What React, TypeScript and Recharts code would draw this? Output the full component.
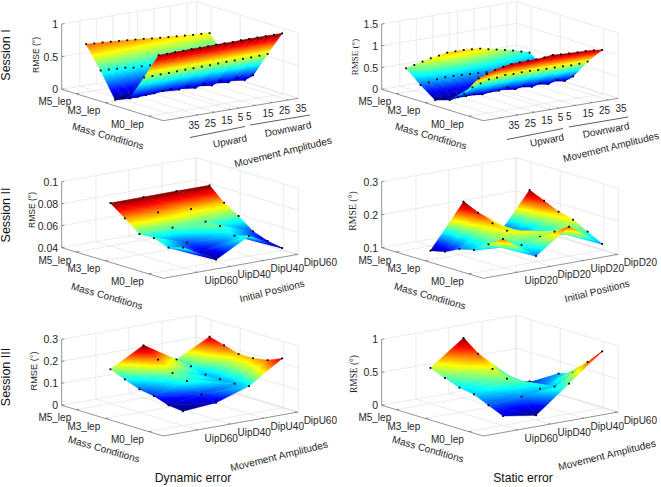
import { ScatterChart, Scatter, XAxis, YAxis } from 'recharts';

// mass rows run M5 -> M0, every surface table below is rows x columns
const massConditions = ['M5_lep', 'M4_lep', 'M3_lep', 'M2_lep', 'M1_lep', 'M0_lep'];
const massTicks = [0, 2, 5];

const amplitudeTicks = [1, 3, 5, 7, 8, 10, 12, 14];
const amplitudeLabels = ['35', '25', '15', '5', '5', '15', '25', '35'];
const positionTicks = [0, 1, 2, 3];
const dipLabels = ['UipD60', 'UipD40', 'DipU40', 'DipU60'];
const d20Labels = ['UipD20', 'DipD20', 'UipD20', 'DipD20'];

const session1Dynamic = [
  [0.735, 0.725, 0.72, 0.71, 0.7, 0.69, 0.68, 0.67, 0.655, 0.645, 0.635, 0.625, 0.615, 0.605, 0.6, 0.59],
  [0.4, 0.395, 0.385, 0.38, 0.36, 0.36, 0.355, 0.35, 0.345, 0.345, 0.34, 0.335, 0.33, 0.33, 0.325, 0.32],
  [0.02, 0.025, 0.03, 0.03, 0.035, 0.035, 0.04, 0.04, 0.04, 0.045, 0.045, 0.04, 0.045, 0.04, 0.045, 0.04],
  [0.11, 0.115, 0.12, 0.125, 0.14, 0.15, 0.12, 0.15, 0.105, 0.15, 0.1, 0.157, 0.105, 0.155, 0.1, 0.15],
  [0.5, 0.5, 0.505, 0.505, 0.51, 0.515, 0.515, 0.52, 0.52, 0.525, 0.53, 0.53, 0.535, 0.535, 0.54, 0.546],
  [0.91, 0.91, 0.915, 0.915, 0.92, 0.92, 0.92, 0.925, 0.925, 0.925, 0.93, 0.93, 0.93, 0.93, 0.93, 0.93],
];
const session1Static = [
  [0.548, 0.593, 0.638, 0.684, 0.714, 0.751, 0.75, 0.75, 0.734, 0.718, 0.672, 0.633, 0.594, 0.548, 0.493, 0.439],
  [0.268, 0.298, 0.337, 0.352, 0.35, 0.341, 0.333, 0.32, 0.31, 0.3, 0.28, 0.26, 0.24, 0.22, 0.2, 0.18],
  [0.027, 0.02, 0.03, 0.03, 0.03, 0.035, 0.035, 0.04, 0.04, 0.04, 0.045, 0.045, 0.04, 0.05, 0.05, 0.05],
  [0.13, 0.159, 0.158, 0.166, 0.135, 0.164, 0.156, 0.194, 0.13, 0.169, 0.12, 0.168, 0.12, 0.18, 0.13, 0.2],
  [0.38, 0.49, 0.55, 0.61, 0.62, 0.65, 0.64, 0.65, 0.65, 0.64, 0.635, 0.635, 0.63, 0.62, 0.625, 0.643],
  [0.83, 0.9, 0.96, 1.007, 1.036, 1.043, 1.05, 1.05, 1.064, 1.088, 1.07, 1.062, 1.054, 1.054, 1.038, 1.015],
];
const session2Dynamic = [
  [0.079, 0.0791, 0.0792, 0.0791],
  [0.0691, 0.0692, 0.0669, 0.0673],
  [0.0588, 0.0593, 0.0594, 0.0592],
  [0.0592, 0.0496, 0.0594, 0.0492],
  [0.0544, 0.045, 0.0546, 0.0444],
  [0.0584, 0.0421, 0.0583, 0.042],
];
const session2Static = [
  [0.0858, 0.2165, 0.09, 0.2163],
  [0.096, 0.1964, 0.1, 0.197],
  [0.1174, 0.1774, 0.115, 0.177],
  [0.1276, 0.1684, 0.132, 0.166],
  [0.158, 0.138, 0.161, 0.143],
  [0.1875, 0.118, 0.189, 0.119],
];
const session3Dynamic = [
  [0.156, 0.238, 0.147, 0.224],
  [0.13, 0.193, 0.136, 0.205],
  [0.105, 0.152, 0.118, 0.185],
  [0.094, 0.136, 0.117, 0.186],
  [0.072, 0.094, 0.117, 0.197],
  [0.065, 0.077, 0.126, 0.225],
];
const session3Static = [
  [0.54, 0.906, 0.1, 0.07],
  [0.455, 0.734, 0.12, 0.1],
  [0.375, 0.569, 0.2, 0.32],
  [0.34, 0.488, 0.248, 0.4],
  [0.24, 0.282, 0.345, 0.63],
  [0.144, 0.066, 0.457, 0.857],
];

const SANS = '"Liberation Sans", Arial, sans-serif';
const SERIF = '"Liberation Serif", "Times New Roman", serif';
const W = 345;
const H = 178;
const PAD = 10; // charts overlap a little, the box tops poke above each row

const JET = [
  [0, '#000084'],
  [0.125, '#0000ff'],
  [0.375, '#00ffff'],
  [0.625, '#ffff00'],
  [0.875, '#ff0000'],
  [1, '#800000'],
];

type Pt = { u: number; v: number };
type Txt = { x: number; y: number; text: string; size?: number; anchor?: string; rotate?: number; font?: string };

type Panel = {
  id: string;
  left: number;
  top: number;
  surface: number[][];
  L: number[];
  O: number[];
  R: number[];
  zPx: number;
  xDomain: number[];
  zDomain: number[];
  zTicks: number[];
  xTicks: number[];
  xLabels: string[];
  notes: Txt[];
  brackets?: number[][][];
};

const amplitudeDomain = [-1.2, 15.2];
const positionDomain = [-1.035, 3.05];
const massDomain = [-1, 6];

const panels: Panel[] = [
  {
    id: 'p1', left: 0, top: 0, surface: session1Dynamic,
    L: [61.7, 89.3], O: [163.3, 120.7], R: [298.3, 98.3], zPx: 65.3,
    xDomain: amplitudeDomain, zDomain: [0, 1], zTicks: [0, 0.5, 1],
    xTicks: amplitudeTicks, xLabels: amplitudeLabels,
    notes: [
      { x: 36, y: 55, text: 'RMSE (°)', rotate: -90, size: 8.5 },
      { x: 108, y: 136, text: 'Mass Conditions', rotate: 16 },
      { x: 230, y: 141, text: 'Upward', rotate: -11 },
      { x: 288, y: 129, text: 'Downward', rotate: -11 },
      { x: 283, y: 152, text: 'Movement Amplitudes', rotate: -14, size: 10.2 },
    ],
    brackets: [[[190, 137.5], [245, 126.5]], [[250, 125], [310, 115]]],
  },
  {
    id: 'p2', left: 330, top: 0, surface: session1Static,
    L: [51.7, 89.3], O: [153.3, 120.7], R: [288.3, 98.3], zPx: 65.3,
    xDomain: amplitudeDomain, zDomain: [0, 1.5], zTicks: [0, 0.5, 1, 1.5],
    xTicks: amplitudeTicks, xLabels: amplitudeLabels,
    notes: [
      { x: 25, y: 57, text: 'RMSE (°)', rotate: -90, font: SERIF, size: 9 },
      { x: 101, y: 136, text: 'Mass Conditions', rotate: 16 },
      { x: 217, y: 140, text: 'Upward', rotate: -11 },
      { x: 276, y: 130, text: 'Downward', rotate: -11 },
      { x: 281, y: 147, text: 'Movement Amplitudes', rotate: -14, size: 10 },
    ],
    brackets: [[[177, 139.5], [233, 128.5]], [[239, 127], [298, 117]]],
  },
  {
    id: 'p3', left: 0, top: 165, surface: session2Dynamic,
    L: [61.7, 82.7], O: [163.3, 113.3], R: [298.3, 89.3], zPx: 66,
    xDomain: positionDomain, zDomain: [0.04, 0.1], zTicks: [0.04, 0.06, 0.08, 0.1],
    xTicks: positionTicks, xLabels: dipLabels,
    notes: [
      { x: 32, y: 45, text: 'RMSE (°)', rotate: -90, size: 8.5 },
      { x: 107, y: 131, text: 'Mass Conditions', rotate: 16 },
      { x: 272, y: 126, text: 'Initial Positions', rotate: -14 },
    ],
  },
  {
    id: 'p4', left: 330, top: 165, surface: session2Static,
    L: [51.7, 82.7], O: [153.3, 113.3], R: [288.3, 89.3], zPx: 66,
    xDomain: positionDomain, zDomain: [0.1, 0.3], zTicks: [0.1, 0.2, 0.3],
    xTicks: positionTicks, xLabels: d20Labels,
    notes: [
      { x: 22, y: 46, text: 'RMSE (°)', rotate: -90, font: SERIF, size: 9.8 },
      { x: 100, y: 131, text: 'Mass Conditions', rotate: 16 },
      { x: 267, y: 126, text: 'Initial Positions', rotate: -14 },
    ],
  },
  {
    id: 'p5', left: 0, top: 322, surface: session3Dynamic,
    L: [61.7, 83.3], O: [163.3, 114], R: [298.3, 90], zPx: 66,
    xDomain: positionDomain, zDomain: [0, 0.3], zTicks: [0, 0.1, 0.2, 0.3],
    xTicks: positionTicks, xLabels: dipLabels,
    notes: [
      { x: 34, y: 49, text: 'RMSE (°)', rotate: -90, size: 9.2 },
      { x: 104, y: 127, text: 'Mass Conditions', rotate: 16 },
      { x: 279, y: 134, text: 'Movement Amplitudes', rotate: -14, size: 10.2 },
    ],
  },
  {
    id: 'p6', left: 330, top: 322, surface: session3Static,
    L: [51.7, 83.3], O: [153.3, 114], R: [288.3, 90], zPx: 66,
    xDomain: positionDomain, zDomain: [0, 1], zTicks: [0, 0.5, 1],
    xTicks: positionTicks, xLabels: dipLabels,
    notes: [
      { x: 24, y: 52, text: 'RMSE (°)', rotate: -90, font: SERIF, size: 9.4 },
      { x: 98, y: 127, text: 'Mass Conditions', rotate: 16 },
      { x: 277, y: 133, text: 'Movement Amplitudes', rotate: -14, size: 10.2 },
    ],
  },
];

// orthographic view of the plot box, same as the fixed matlab camera
function projector(p: Panel) {
  return (x: number, m: number, z: number): Pt => {
    const a = (m - massDomain[0]) / (massDomain[1] - massDomain[0]);
    const b = (x - p.xDomain[0]) / (p.xDomain[1] - p.xDomain[0]);
    const c = (z - p.zDomain[0]) / (p.zDomain[1] - p.zDomain[0]);
    return {
      u: p.L[0] + a * (p.O[0] - p.L[0]) + b * (p.R[0] - p.O[0]),
      v: p.L[1] + PAD + a * (p.O[1] - p.L[1]) + b * (p.R[1] - p.O[1]) - c * p.zPx,
    };
  };
}

function buildLines(p: Panel) {
  const at = projector(p);
  const [xLo, xHi] = p.xDomain;
  const [mLo, mHi] = massDomain;
  const [zLo, zHi] = p.zDomain;
  const light: Pt[][] = [];
  const dark: Pt[][] = [];

  p.xTicks.forEach((x) => {
    light.push([at(x, mLo, zLo), at(x, mHi, zLo)]);
    light.push([at(x, mLo, zLo), at(x, mLo, zHi)]);
    dark.push([at(x, mHi, zLo), at(x, mHi - 0.12, zLo)]);
  });
  massTicks.forEach((m) => {
    light.push([at(xLo, m, zLo), at(xHi, m, zLo)]);
    light.push([at(xHi, m, zLo), at(xHi, m, zHi)]);
    dark.push([at(xLo, m, zLo), at(xLo + (xHi - xLo) * 0.02, m, zLo)]);
  });
  p.zTicks.forEach((z) => {
    light.push([at(xLo, mLo, z), at(xHi, mLo, z)]);
    light.push([at(xHi, mLo, z), at(xHi, mHi, z)]);
    dark.push([at(xLo, mLo, z), at(xLo + (xHi - xLo) * 0.02, mLo, z)]);
  });
  light.push([at(xHi, mLo, zLo), at(xHi, mLo, zHi)]);
  light.push([at(xHi, mHi, zLo), at(xHi, mHi, zHi)]);
  light.push([at(xHi, mLo, zLo), at(xHi, mHi, zLo)]);

  dark.push([at(xLo, mLo, zLo), at(xLo, mHi, zLo)]);
  dark.push([at(xLo, mHi, zLo), at(xHi, mHi, zLo)]);
  dark.push([at(xLo, mLo, zLo), at(xLo, mLo, zHi)]);
  return { light, dark };
}

// back to front so the surface hides itself, each dot goes right after the last cell touching it
function buildSurface(p: Panel) {
  const at = projector(p);
  const rows = p.surface;
  const flat = rows.flat();
  const zMin = Math.min(...flat);
  const zMax = Math.max(...flat);
  const items: any[] = [];

  const tri = (corners: { pt: Pt; z: number }[]) => {
    const [a, b, c] = corners;
    const e1 = { u: b.pt.u - a.pt.u, v: b.pt.v - a.pt.v, z: b.z - a.z };
    const e2 = { u: c.pt.u - a.pt.u, v: c.pt.v - a.pt.v, z: c.z - a.z };
    const det = e1.u * e2.v - e2.u * e1.v;
    if (Math.abs(det) < 0.01) return;
    const gu = (e1.z * e2.v - e2.z * e1.v) / det;
    const gv = (e2.z * e1.u - e1.z * e2.u) / det;
    const g2 = gu * gu + gv * gv || 1e-12;
    const s = (zMin - a.z) / g2;
    const e = (zMax - a.z) / g2;
    items.push({
      kind: 'tri',
      u: (a.pt.u + b.pt.u + c.pt.u) / 3,
      v: (a.pt.v + b.pt.v + c.pt.v) / 3,
      pts: [a.pt, b.pt, c.pt],
      grad: [a.pt.u + s * gu, a.pt.v + s * gv, a.pt.u + e * gu, a.pt.v + e * gv],
    });
  };
  const corner = (i: number, j: number) => ({ pt: at(i, j, rows[j][i]), z: rows[j][i] });
  const dot = (i: number, j: number) => items.push({ kind: 'dot', ...at(i, j, rows[j][i]) });

  for (let j = 0; j < rows.length - 1; j++) {
    for (let i = rows[j].length - 2; i >= 0; i--) {
      tri([corner(i, j), corner(i + 1, j), corner(i + 1, j + 1)]);
      tri([corner(i, j), corner(i + 1, j + 1), corner(i, j + 1)]);
      dot(i + 1, j);
      if (i === 0) dot(0, j);
      if (j === rows.length - 2) {
        dot(i + 1, j + 1);
        if (i === 0) dot(0, j + 1);
      }
    }
  }
  return items;
}

function buildTickLabels(p: Panel) {
  const at = projector(p);
  const out: any[] = [];
  p.zTicks.forEach((z) => {
    const q = at(p.xDomain[0], massDomain[0], z);
    out.push({ u: q.u - 3.5, v: q.v, text: String(z), anchor: 'end', size: 10.5 });
  });
  massTicks.forEach((m) => {
    const q = at(p.xDomain[0], m, p.zDomain[0]);
    out.push({ u: q.u - 5, v: q.v + 8, text: massConditions[m], anchor: 'end', size: 10 });
  });
  p.xTicks.forEach((x, k) => {
    const q = at(x, massDomain[1], p.zDomain[0]);
    out.push({ u: q.u + 7, v: q.v + 8.3, text: p.xLabels[k], anchor: 'start', size: 10 });
  });
  return out;
}

function SurfaceMark(props: any) {
  const { cx, cy, payload, panelId, index } = props;
  if (payload.kind === 'dot') {
    return <rect x={cx - 0.9} y={cy - 0.9} width={1.8} height={1.8} fill="#000" />;
  }
  const dx = cx - payload.u;
  const dy = cy - payload.v;
  const gid = `${panelId}-g${index}`;
  const d = payload.pts.map((q: Pt, k: number) => `${k ? 'L' : 'M'}${q.u + dx} ${q.v + dy}`).join('') + 'Z';
  const [x1, y1, x2, y2] = payload.grad;
  return (
    <g>
      <linearGradient id={gid} gradientUnits="userSpaceOnUse" x1={x1 + dx} y1={y1 + dy} x2={x2 + dx} y2={y2 + dy}>
        {JET.map(([o, c]) => (
          <stop key={String(o)} offset={o as number} stopColor={c as string} />
        ))}
      </linearGradient>
      <path d={d} fill={`url(#${gid})`} stroke={`url(#${gid})`} strokeWidth={0.5} strokeLinejoin="round" />
    </g>
  );
}

function TextMark(props: any) {
  const { cx, cy, payload } = props;
  return (
    <text
      x={cx}
      y={cy}
      textAnchor={payload.anchor || 'middle'}
      dominantBaseline="central"
      fontFamily={payload.font || SANS}
      fontSize={payload.size || 10}
      fill="#262626"
      transform={payload.rotate ? `rotate(${payload.rotate} ${cx} ${cy})` : undefined}
    >
      {payload.text}
    </text>
  );
}

const noMark = () => <g />;

function SurfacePanel({ panel }: { panel: Panel }) {
  const { light, dark } = buildLines(panel);
  const items = buildSurface(panel);
  const ticks = buildTickLabels(panel);
  const notes = panel.notes.map((n) => ({ ...n, u: n.x, v: n.y + PAD }));
  const brackets = (panel.brackets || []).map((b) => b.map(([u, v]) => ({ u, v: v + PAD })));
  return (
    <div style={{ position: 'absolute', left: panel.left, top: panel.top - PAD }}>
      <ScatterChart width={W} height={H} margin={{ top: 0, right: 0, bottom: 0, left: 0 }}>
        <XAxis type="number" dataKey="u" domain={[0, W]} hide />
        <YAxis type="number" dataKey="v" domain={[0, H]} reversed hide />
        {light.map((seg, k) => (
          <Scatter key={`l${k}`} data={seg} shape={noMark} line={{ stroke: '#e2e2e2', strokeWidth: 0.7 }} isAnimationActive={false} />
        ))}
        {dark.map((seg, k) => (
          <Scatter key={`d${k}`} data={seg} shape={noMark} line={{ stroke: '#666', strokeWidth: 0.7 }} isAnimationActive={false} />
        ))}
        {brackets.map((seg, k) => (
          <Scatter key={`b${k}`} data={seg} shape={noMark} line={{ stroke: '#333', strokeWidth: 0.8 }} isAnimationActive={false} />
        ))}
        <Scatter data={items} shape={<SurfaceMark panelId={panel.id} />} isAnimationActive={false} />
        <Scatter data={ticks} shape={<TextMark />} isAnimationActive={false} />
        <Scatter data={notes} shape={<TextMark />} isAnimationActive={false} />
      </ScatterChart>
    </div>
  );
}

const sessionLabels = [
  { text: 'Session I', y: 55 },
  { text: 'Session II', y: 215 },
  { text: 'Session III', y: 377 },
];
const columnLabels = [
  { text: 'Dynamic error', x: 193 },
  { text: 'Static error', x: 523 },
];

export default function App() {
  return (
    <div style={{ position: 'absolute', left: 0, top: 0, width: 661, height: 487, overflow: 'hidden', background: '#fff', fontFamily: SANS }}>
      {panels.map((p) => (
        <SurfacePanel key={p.id} panel={p} />
      ))}
      {sessionLabels.map((s) => (
        <div
          key={s.text}
          style={{ position: 'absolute', left: 6, top: s.y, fontSize: 12.5, color: '#111', whiteSpace: 'nowrap', transform: 'translate(-50%, -50%) rotate(-90deg)' }}
        >
          {s.text}
        </div>
      ))}
      {columnLabels.map((c) => (
        <div
          key={c.text}
          style={{ position: 'absolute', left: c.x, top: 478, fontSize: 12.2, color: '#111', whiteSpace: 'nowrap', transform: 'translate(-50%, -50%)' }}
        >
          {c.text}
        </div>
      ))}
    </div>
  );
}
